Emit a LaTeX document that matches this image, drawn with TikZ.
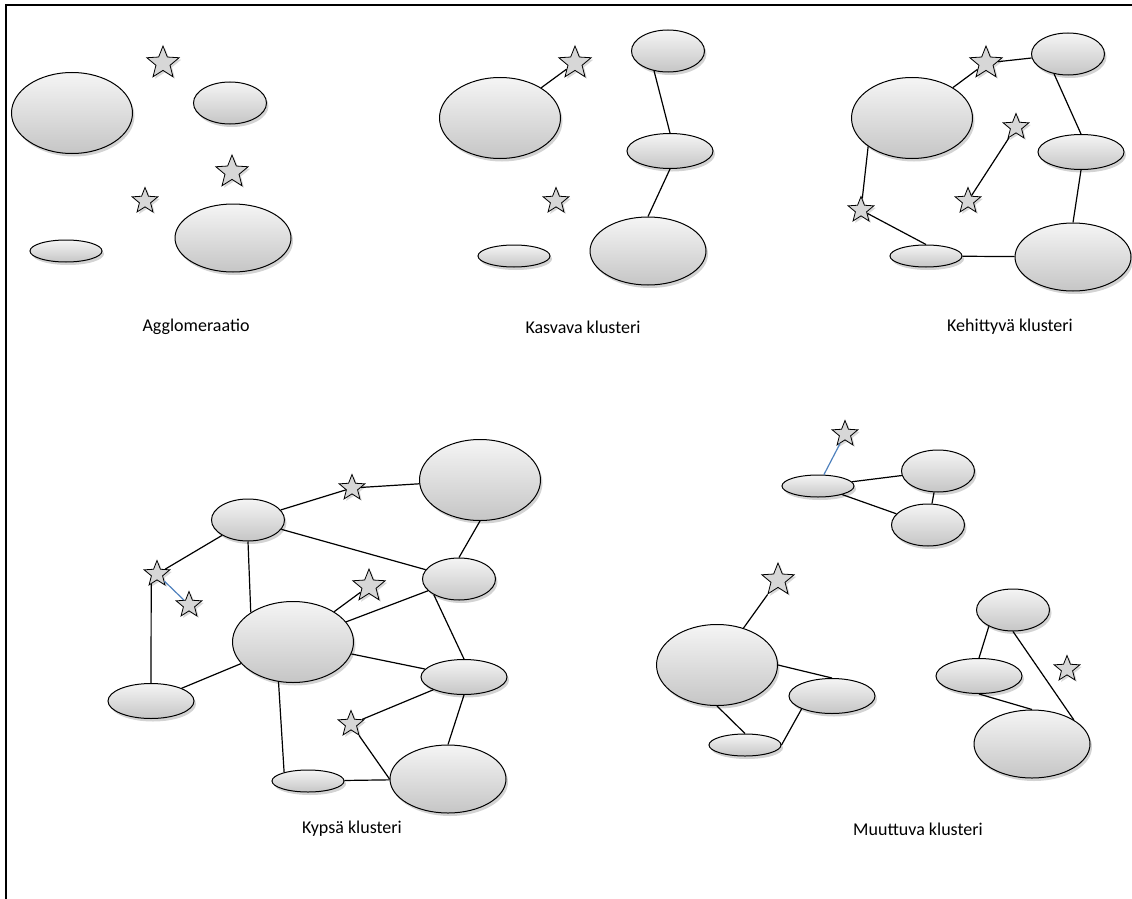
\documentclass[tikz,border=0pt]{standalone}
\usepackage{fontspec}
\setmainfont{Carlito}
\usepackage{tikz}
\usetikzlibrary{shapes.geometric,shadows}
\definecolor{harmaa}{RGB}{215,215,215}
\definecolor{sininen}{RGB}{79,129,189}

\begin{document}
\begin{tikzpicture}[x=1pt,y=-1pt,
solu/.style={ellipse,draw,line width=1pt,inner sep=0pt,top color=gray!8,bottom color=gray!45,drop shadow={shadow xshift=2pt,shadow yshift=-3pt,opacity=0.35}},
iso/.style={solu,minimum width=121pt,minimum height=81pt},
valtava/.style={solu,minimum width=116pt,minimum height=68pt},
keski/.style={solu,minimum width=73pt,minimum height=42pt},
leve/.style={solu,minimum width=86pt,minimum height=35pt},
litea/.style={solu,minimum width=72pt,minimum height=22pt},
tahti/.style={star,star points=5,star point ratio=2.3,draw,line width=0.8pt,fill=harmaa,inner sep=0pt,minimum size=27pt,drop shadow={shadow xshift=2pt,shadow yshift=-2pt,opacity=0.3}},
isotahti/.style={tahti,minimum size=34pt},
yhteys/.style={line width=1.2pt},
sininen viiva/.style={line width=1.2pt,draw=sininen},
nimi/.style={font=\fontsize{18}{21}\selectfont}
]
\useasboundingbox (0,0) rectangle (1132,899);
\draw[line width=2pt] (6,899) -- (6,5) -- (1132,5);

% Agglomeraatio
\node[iso] (a1) at (72,113) {};
\node[keski] (a2) at (230,103) {};
\node[litea] (a3) at (66,251) {};
\node[valtava] (a4) at (233,238) {};
\node[isotahti] (at1) at (163,63) {};
\node[isotahti] (at2) at (232,172) {};
\node[tahti] (at3) at (145,201) {};
\node[nimi] (an) at (196,327) {Agglomeraatio};

% Kasvava klusteri
\node[iso] (k1) at (500,118) {};
\node[keski] (k2) at (668,51) {};
\node[leve] (k3) at (670,151) {};
\node[litea] (k4) at (514,256) {};
\node[valtava] (k5) at (648,251) {};
\node[isotahti] (kt1) at (575,63) {};
\node[tahti] (kt2) at (556,201) {};
\node[nimi] (kn) at (583,327) {Kasvava klusteri};
\draw[yhteys] (k1)--(kt1);
\draw[yhteys] (k2.235)--(k3.north);
\draw[yhteys] (k3.south)--(k5.north);

% Kehittyva klusteri
\node[iso] (h1) at (912,118) {};
\node[keski] (h2) at (1068,54) {};
\node[leve] (h3) at (1081,152) {};
\node[litea] (h4) at (926,256) {};
\node[valtava] (h5) at (1073,257) {};
\node[isotahti] (ht1) at (986,63) {};
\node[tahti] (ht2) at (1016,127) {};
\node[tahti] (ht3) at (968,201) {};
\node[tahti] (ht4) at (861,210) {};
\node[nimi] (hn) at (1010,327) {Kehittyvä klusteri};
\foreach \a/\b in {h1/ht1,ht1/h2,h5/h4,ht2/ht3} \draw[yhteys] (\a)--(\b);
\draw[yhteys] (h2.235)--(h3.north);
\draw[yhteys] (h3.south)--(h5.north);
\draw[yhteys] (h4.north)--(ht4);
\draw[yhteys] (ht4)--(h1.213);

% Kypsa klusteri
\node[iso] (p1) at (480,480) {};
\node[keski] (p2) at (248,520) {};
\node[keski] (p3) at (459,579) {};
\node[iso] (p4) at (293,642) {};
\node[leve] (p5) at (464,677) {};
\node[leve] (p6) at (151,701) {};
\node[litea] (p7) at (308,781) {};
\node[valtava] (p8) at (448,779) {};
\node[tahti] (pt1) at (352,488) {};
\node[tahti] (pt2) at (157,574) {};
\node[tahti] (pt3) at (189,605) {};
\node[isotahti] (pt4) at (369,586) {};
\node[tahti] (pt5) at (351,724) {};
\node[nimi] (pn) at (352,829) {Kypsä klusteri};
\foreach \a/\b in {p2/pt1,pt1/p1,p2/pt2,p2/p3,p4/pt4,p4/p3,p4/p5,p6/p4,p5/pt5,p7/p8} \draw[yhteys] (\a)--(\b);
\draw[yhteys] (pt2.240)--(p6.north);
\draw[yhteys] (p2.south)--(p4.145);
\draw[yhteys] (p1.south)--(p3.north);
\draw[yhteys] (p3.212)--(p5.north);
\draw[yhteys] (pt5)--(p8.west);
\draw[yhteys] (p5.south)--(p8.north);
\draw[yhteys] (p4.250)--(p7.160);
\draw[sininen viiva] (pt2)--(pt3);

% Muuttuva klusteri
\node[litea] (m1) at (818,486) {};
\node[keski] (m2) at (938,471) {};
\node[keski] (m3) at (928,525) {};
\node[iso] (m4) at (717,665) {};
\node[leve] (m5) at (832,696) {};
\node[litea] (m6) at (745,745) {};
\node[keski] (m7) at (1013,610) {};
\node[leve] (m8) at (979,676) {};
\node[valtava] (m9) at (1032,744) {};
\node[tahti] (mt1) at (845,434) {};
\node[isotahti] (mt2) at (778,580) {};
\node[tahti] (mt3) at (1067,669) {};
\node[nimi] (mn) at (918,829) {Muuttuva klusteri};
\foreach \a/\b in {m1/m2,m1/m3,m2/m3,m4/mt2} \draw[yhteys] (\a)--(\b);
\draw[yhteys] (m4.east)--(m5.north);
\draw[yhteys] (m4.south)--(m6.north);
\draw[yhteys] (m6.east)--(m5.203);
\draw[yhteys] (m7.214)--(m8.north);
\draw[yhteys] (m7.south)--(m9.30);
\draw[yhteys] (m8.south)--(m9.north);
\draw[sininen viiva] (m1)--(mt1);
\end{tikzpicture}
\end{document}
